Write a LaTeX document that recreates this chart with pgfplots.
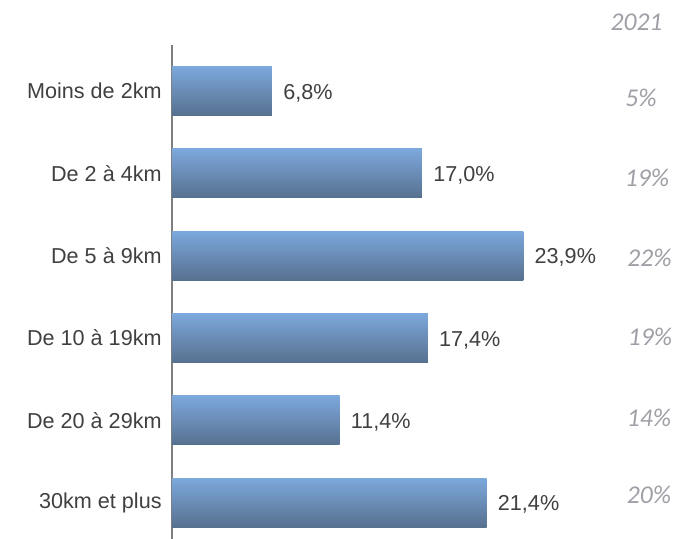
\documentclass[border=0pt]{standalone}
\usepackage{pgfplots}
\pgfplotsset{compat=1.18}
\usepackage{fontspec}
\setmainfont{Liberation Sans}
\newfontfamily\calib{Carlito}
\definecolor{txt}{HTML}{404040}
\definecolor{gr}{HTML}{9F9FA7}
\definecolor{bartop}{HTML}{7CA8DC}
\definecolor{barbot}{HTML}{57708F}
\definecolor{axgray}{HTML}{7F7F7F}
\pgfplotsset{mybar/.style={xbar, bar width=24.5pt, bar shift=0pt, draw=none, top color=bartop, bottom color=barbot,
  nodes near coords={\pgfmathprintnumber[fixed,fixed zerofill,precision=1,use comma]{\pgfplotspointmeta}\%},
  nodes near coords style={font=\fontsize{10.8}{13}\selectfont, text=txt, inner sep=0pt, anchor=west, xshift=5.5pt, yshift=-1pt}}}
\begin{document}
\begin{tikzpicture}
\begin{axis}[
  scale only axis, width=220.5pt, height=247pt,
  xmin=0, xmax=30, ymin=-0.56, ymax=5.44, y dir=reverse,
  clip=false,
  separate axis lines,
  axis x line=none, axis y line=left,
  axis line style={-},
  y axis line style={draw=axgray, line width=1pt},
  ytick={0,1,2,3,4,5},
  yticklabels={Moins de 2km, De 2 à 4km, De 5 à 9km, De 10 à 19km, De 20 à 29km, 30km et plus},
  major tick length=0pt,
  yticklabel style={font=\fontsize{10.8}{13}\selectfont, text=txt, inner sep=0pt, xshift=-5pt},
  /pgf/number format/assume math mode=true,
]
\addplot[mybar] coordinates {(6.8,0)};
\addplot[mybar] coordinates {(17.0,1)};
\addplot[mybar] coordinates {(23.9,2)};
\addplot[mybar] coordinates {(17.4,3)};
\addplot[mybar] coordinates {(11.4,4)};
\addplot[mybar] coordinates {(21.4,5)};
\addplot[only marks, mark=none, point meta=explicit symbolic,
  nodes near coords={\pgfplotspointmeta\%},
  nodes near coords style={font=\calib\itshape\fontsize{12.8}{15}\selectfont, text=gr, inner sep=0pt, anchor=center}]
  coordinates {(31.9,0.085) [5] (32.31,1.05) [19] (32.48,2.02) [22] (32.52,2.99) [19] (32.45,3.97) [14] (32.45,4.91) [20]};
\addplot[only marks, mark=none, point meta=explicit symbolic,
  nodes near coords={\pgfplotspointmeta},
  nodes near coords style={font=\calib\itshape\fontsize{12.8}{15}\selectfont, text=gr, inner sep=0pt, anchor=center}]
  coordinates {(31.6,-0.83) [2021]};
\coordinate (bl) at (axis cs:0,5.44);
\end{axis}
\pgfresetboundingbox
\path ([xshift=-86pt]bl) rectangle ([xshift=251.5pt,yshift=269.5pt]bl);
\end{tikzpicture}
\end{document}
